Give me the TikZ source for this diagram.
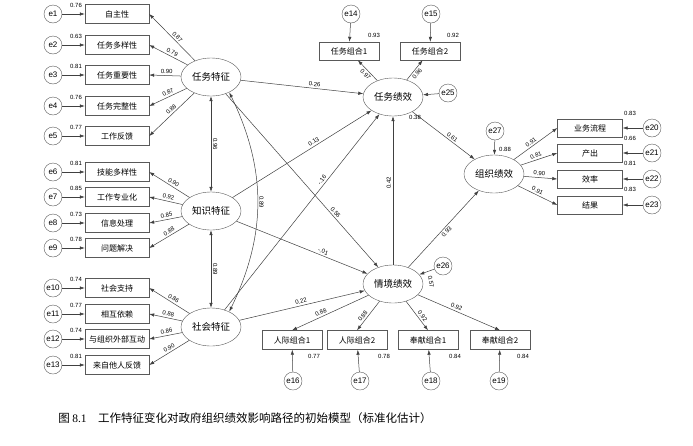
\documentclass[tikz,border=0pt]{standalone}
\usepackage{fontspec}
\setmainfont{Liberation Sans}
\newfontfamily\cjk{Noto Sans CJK SC}
\newfontfamily\capserif{Liberation Serif}
\usetikzlibrary{shapes.geometric,arrows.meta,positioning}

\begin{document}
\begin{tikzpicture}[x=1pt,y=-1pt,
  >={Latex[length=5pt,width=3.4pt]},
  ind/.style={draw=black!65,rectangle,minimum width=64,minimum height=19,inner sep=0,font=\cjk\fontsize{8}{8}\selectfont},
  lat/.style={draw=black!65,ellipse,minimum width=60,minimum height=38,inner sep=0,font=\cjk\fontsize{9.5}{9.5}\selectfont},
  err/.style={draw=black!65,circle,minimum size=18,inner sep=0,font=\fontsize{8}{8}\selectfont},
  num/.style={font=\fontsize{6}{6}\selectfont,inner sep=1.8pt},
  lnk/.style={->,draw=black!75,line width=0.5pt},
  cor/.style={<->,draw=black!75,line width=0.5pt}
]
\useasboundingbox (0,0) rectangle (693,445);

\node[err] (e1) at (53,14) {e1};
\node[err] (e2) at (53,45) {e2};
\node[err] (e3) at (53,75) {e3};
\node[err] (e4) at (53,106) {e4};
\node[err] (e5) at (53,136) {e5};
\node[ind] (a1) at (117,14) {自主性};
\node[ind] (a2) at (117,45) {任务多样性};
\node[ind] (a3) at (117,75) {任务重要性};
\node[ind] (a4) at (117,106) {任务完整性};
\node[ind] (a5) at (117,136) {工作反馈};
\node[lat] (tc) at (211,77) {任务特征};

\node[err] (e6) at (53,172) {e6};
\node[err] (e7) at (53,197) {e7};
\node[err] (e8) at (53,223) {e8};
\node[err] (e9) at (53,248) {e9};
\node[ind] (b1) at (117,172) {技能多样性};
\node[ind] (b2) at (117,197) {工作专业化};
\node[ind] (b3) at (117,223) {信息处理};
\node[ind] (b4) at (117,248) {问题解决};
\node[lat] (kc) at (211,211) {知识特征};

\node[err] (e10) at (53,288) {e10};
\node[err] (e11) at (53,314) {e11};
\node[err] (e12) at (53,339) {e12};
\node[err] (e13) at (53,365) {e13};
\node[ind] (c1) at (117,288) {社会支持};
\node[ind] (c2) at (117,314) {相互依赖};
\node[ind] (c3) at (117,339) {与组织外部互动};
\node[ind] (c4) at (117,365) {来自他人反馈};
\node[lat] (sc) at (211,327) {社会特征};

\node[lat] (tp) at (393,97) {任务绩效};
\node[lat] (cp) at (393,284) {情境绩效};
\node[lat] (op) at (494,174) {组织绩效};
\node[err] (e25) at (448,93) {e25};
\node[err] (e26) at (443,266) {e26};
\node[err] (e27) at (495,131) {e27};

\node[err] (e14) at (351,14) {e14};
\node[err] (e15) at (431,14) {e15};
\node[ind,minimum width=60,minimum height=18] (t1) at (349,51) {任务组合1};
\node[ind,minimum width=60,minimum height=18] (t2) at (430,51) {任务组合2};

\node[ind,minimum width=60] (p1) at (292,340) {人际组合1};
\node[ind,minimum width=60] (p2) at (357,340) {人际组合2};
\node[ind,minimum width=60] (p3) at (428,340) {奉献组合1};
\node[ind,minimum width=60] (p4) at (500,340) {奉献组合2};
\node[err] (e16) at (293,381) {e16};
\node[err] (e17) at (360,381) {e17};
\node[err] (e18) at (431,381) {e18};
\node[err] (e19) at (499,381) {e19};

\node[ind,minimum width=65,minimum height=18] (o1) at (590,128) {业务流程};
\node[ind,minimum width=65,minimum height=18] (o2) at (590,153) {产出};
\node[ind,minimum width=65,minimum height=18] (o3) at (590,179) {效率};
\node[ind,minimum width=65,minimum height=18] (o4) at (590,205) {结果};
\node[err] (e20) at (652,128) {e20};
\node[err] (e21) at (652,153) {e21};
\node[err] (e22) at (652,179) {e22};
\node[err] (e23) at (652,205) {e23};

\draw[lnk] (e1) -- (a1);
\draw[lnk] (e2) -- (a2);
\draw[lnk] (e3) -- (a3);
\draw[lnk] (e4) -- (a4);
\draw[lnk] (e5) -- (a5);
\draw[lnk] (e6) -- (b1);
\draw[lnk] (e7) -- (b2);
\draw[lnk] (e8) -- (b3);
\draw[lnk] (e9) -- (b4);
\draw[lnk] (e10) -- (c1);
\draw[lnk] (e11) -- (c2);
\draw[lnk] (e12) -- (c3);
\draw[lnk] (e13) -- (c4);
\draw[lnk] (e14) -- (t1);
\draw[lnk] (e15) -- (t2);
\draw[lnk] (e16) -- (p1);
\draw[lnk] (e17) -- (p2);
\draw[lnk] (e18) -- (p3);
\draw[lnk] (e19) -- (p4);
\draw[lnk] (e20) -- (o1);
\draw[lnk] (e21) -- (o2);
\draw[lnk] (e22) -- (o3);
\draw[lnk] (e23) -- (o4);
\draw[lnk] (e25) -- (tp);
\draw[lnk] (e26) -- (cp);
\draw[lnk] (e27) -- (op);

\draw[lnk] (tc) -- (a1.east) node[num,sloped,above,pos=0.45] {0.87};
\draw[lnk] (tc) -- (a2.east) node[num,sloped,above,pos=0.45] {0.79};
\draw[lnk] (tc) -- (a3.east) node[num,sloped,above,pos=0.45] {0.90};
\draw[lnk] (tc) -- (a4.east) node[num,sloped,above,pos=0.45] {0.87};
\draw[lnk] (tc) -- (a5.east) node[num,sloped,above,pos=0.45] {0.88};
\draw[lnk] (kc) -- (b1.east) node[num,sloped,above,pos=0.45] {0.90};
\draw[lnk] (kc) -- (b2.east) node[num,sloped,above,pos=0.45] {0.92};
\draw[lnk] (kc) -- (b3.east) node[num,sloped,above,pos=0.45] {0.85};
\draw[lnk] (kc) -- (b4.east) node[num,sloped,above,pos=0.45] {0.88};
\draw[lnk] (sc) -- (c1.east) node[num,sloped,above,pos=0.45] {0.86};
\draw[lnk] (sc) -- (c2.east) node[num,sloped,above,pos=0.45] {0.88};
\draw[lnk] (sc) -- (c3.east) node[num,sloped,above,pos=0.45] {0.86};
\draw[lnk] (sc) -- (c4.east) node[num,sloped,above,pos=0.45] {0.90};
\draw[lnk] (tp) -- (t1) node[num,sloped,below,pos=0.45] {0.97};
\draw[lnk] (tp) -- (t2) node[num,sloped,below,pos=0.45] {0.96};
\draw[lnk] (cp) -- (p1.north) node[num,sloped,above,pos=0.6] {0.88};
\draw[lnk] (cp) -- (p2.north) node[num,sloped,above,pos=0.6] {0.88};
\draw[lnk] (cp) -- (p3.north) node[num,sloped,above,pos=0.6] {0.92};
\draw[lnk] (cp) -- (p4.north) node[num,sloped,above,pos=0.45] {0.92};
\draw[lnk] (op) -- (o1.west) node[num,sloped,above,pos=0.45] {0.91};
\draw[lnk] (op) -- (o2.west) node[num,sloped,above,pos=0.45] {0.81};
\draw[lnk] (op) -- (o3.west) node[num,sloped,above,pos=0.45] {0.90};
\draw[lnk] (op) -- (o4.west) node[num,sloped,above,pos=0.45] {0.91};

\draw[lnk] (tc) -- (tp) node[num,sloped,above,pos=0.6] {0.26};
\draw[lnk] (tc) -- (cp) node[num,sloped,above,pos=0.7] {0.56};
\draw[lnk] (kc) -- (tp) node[num,sloped,above,pos=0.6] {0.13};
\draw[lnk] (kc) -- (cp) node[num,sloped,above,pos=0.65] {-.01};
\draw[lnk] (sc) -- (tp) node[num,sloped,above,pos=0.65] {-.16};
\draw[lnk] (sc) -- (cp) node[num,sloped,above,pos=0.5] {0.22};
\draw[lnk] (cp) -- (tp) node[num,sloped,above,pos=0.55] {0.42};
\draw[lnk] (tp) -- (op) node[num,sloped,above,pos=0.6] {0.61};
\draw[lnk] (cp) -- (op) node[num,sloped,below,pos=0.5] {0.93};

\draw[cor] (tc) -- (kc) node[num,sloped,above,pos=0.5] {0.96};
\draw[cor] (kc) -- (sc) node[num,sloped,above,pos=0.5] {0.89};
\draw[cor] (tc.-40) to[bend left=26] node[num,sloped,above,pos=0.5] {0.89} (sc.40);

\node[num] (r1) at (76,5) {0.76};
\node[num] (r2) at (76,36) {0.63};
\node[num] (r3) at (76,66) {0.81};
\node[num] (r4) at (76,97) {0.76};
\node[num] (r5) at (76,127) {0.77};
\node[num] (r6) at (76,163) {0.81};
\node[num] (r7) at (76,188) {0.85};
\node[num] (r8) at (76,214) {0.73};
\node[num] (r9) at (76,239) {0.78};
\node[num] (r10) at (76,279) {0.74};
\node[num] (r11) at (76,305) {0.77};
\node[num] (r12) at (76,330) {0.74};
\node[num] (r13) at (76,356) {0.81};
\node[num] (r14) at (374,35) {0.93};
\node[num] (r15) at (453,35) {0.92};
\node[num] (r16) at (314,356) {0.77};
\node[num] (r17) at (384,356) {0.78};
\node[num] (r18) at (455,356) {0.84};
\node[num] (r19) at (523,356) {0.84};
\node[num] (r20) at (630,113) {0.83};
\node[num] (r21) at (630,138) {0.66};
\node[num] (r22) at (630,163) {0.81};
\node[num] (r23) at (630,189) {0.83};
\node[num] (r25) at (415,117) {0.38};
\node[num,rotate=-80] (r26) at (431,282) {0.57};
\node[num] (r27) at (505,149) {0.88};

\node[font=\cjk\fontsize{11.5}{12}\selectfont] (cap) at (245,418) {图 {\capserif 8.1}\quad 工作特征变化对政府组织绩效影响路径的初始模型（标准化估计）};
\end{tikzpicture}
\end{document}
